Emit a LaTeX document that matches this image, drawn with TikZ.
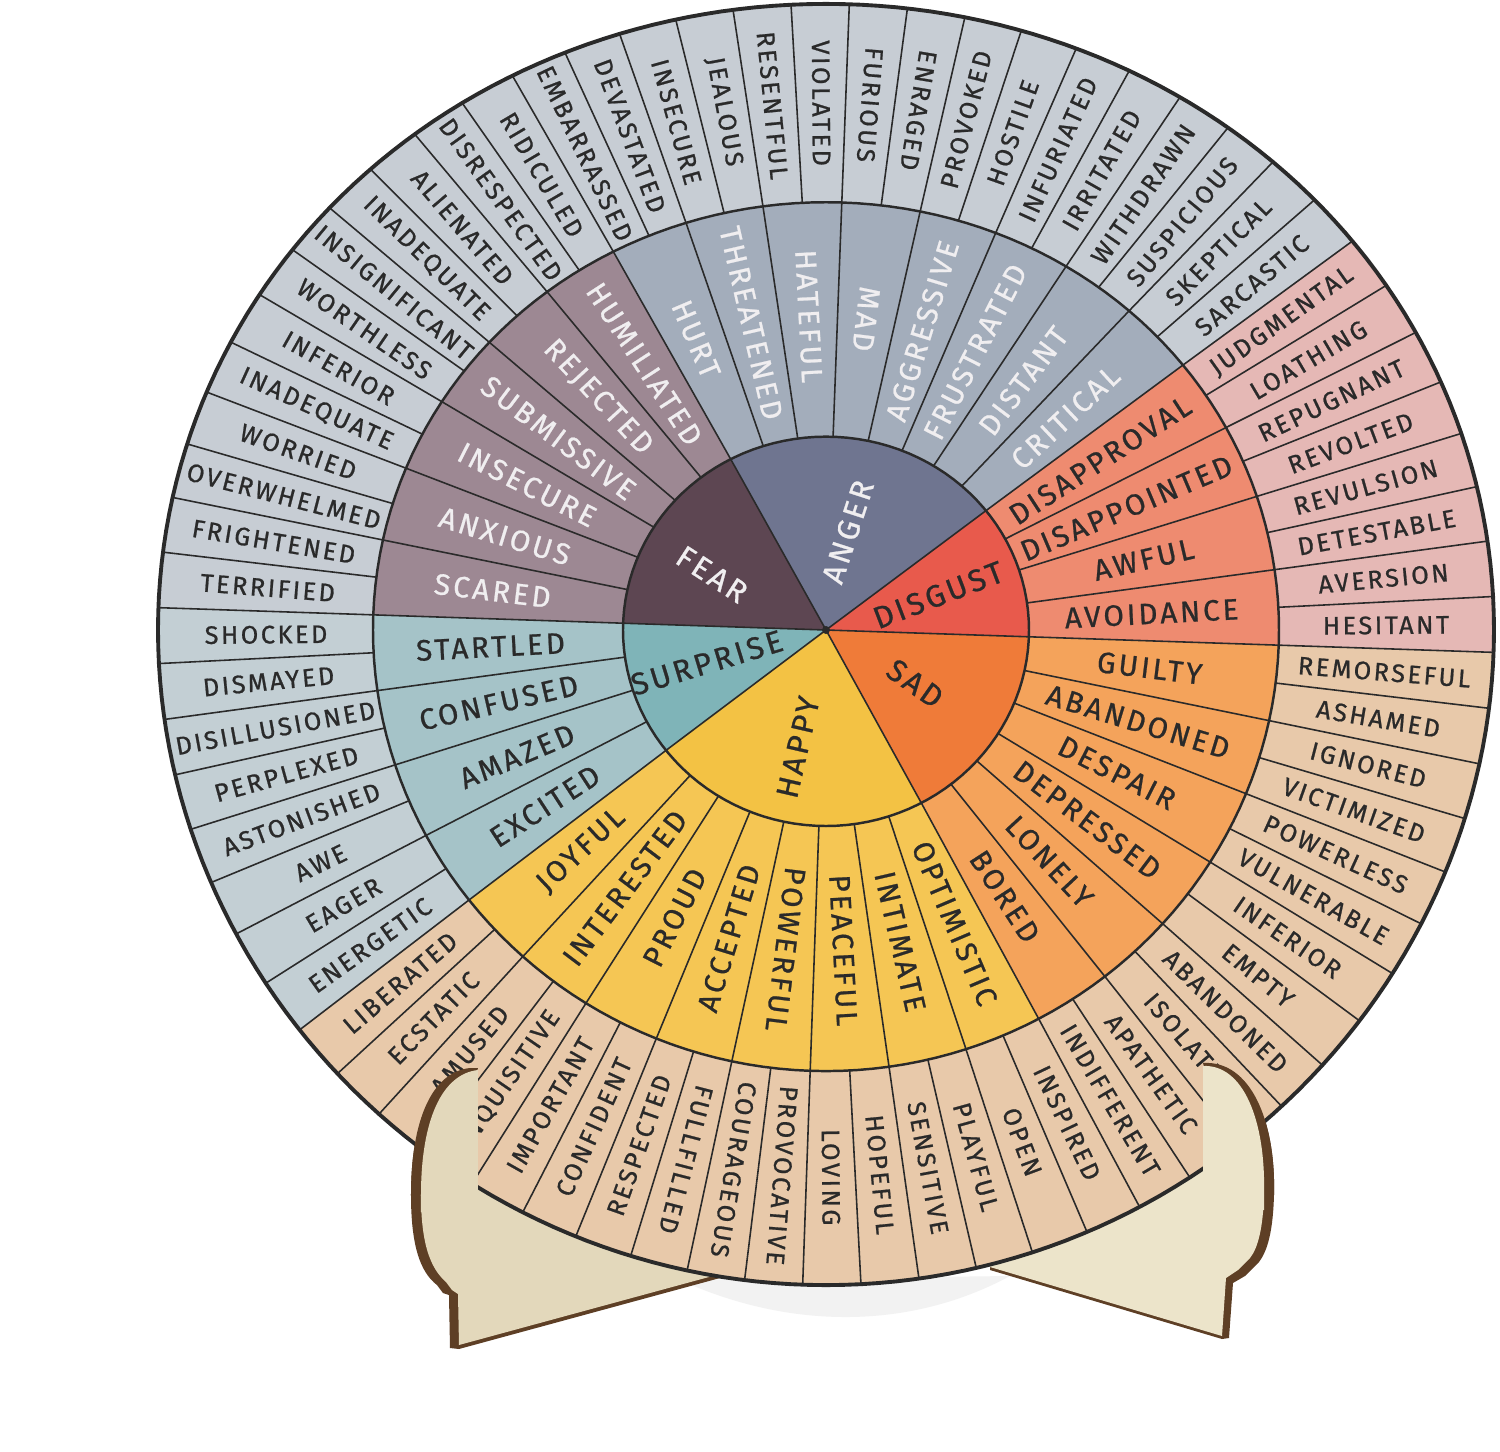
\documentclass[tikz,border=0pt]{standalone}
\usepackage{fontspec}
\setmainfont{Fira Sans}
\newfontfamily\wheelfont{Fira Sans}[LetterSpace=10, FakeBold=0.8]
\usepackage{tikz}
\usepackage{xcolor}
\definecolor{outergray}{HTML}{C7CDD4}
\definecolor{outerblue}{HTML}{C3CFD4}
\definecolor{outerpink}{HTML}{E5B8B5}
\definecolor{outertan}{HTML}{E8C9AA}
\definecolor{midfear}{HTML}{9D8893}
\definecolor{midanger}{HTML}{A3ADBB}
\definecolor{middisgust}{HTML}{EE8B70}
\definecolor{midsad}{HTML}{F4A35B}
\definecolor{midhappy}{HTML}{F5C654}
\definecolor{midsurprise}{HTML}{A5C3C8}
\definecolor{corefear}{HTML}{5D4652}
\definecolor{coreanger}{HTML}{6F7590}
\definecolor{coredisgust}{HTML}{E85A4C}
\definecolor{coresad}{HTML}{EF7B39}
\definecolor{corehappy}{HTML}{F3C244}
\definecolor{coresurprise}{HTML}{7FB4B8}
\definecolor{inkdark}{HTML}{2A2A2A}
\definecolor{inklight}{HTML}{F0EEF0}
\definecolor{woodface}{HTML}{E3D8BB}
\definecolor{woodlight}{HTML}{ECE4CA}
\definecolor{woodedge}{HTML}{5E3F25}
\definecolor{floorshade}{HTML}{F2F2F2}
% wheel seen a little from above: angle, radius -> x, y
\pgfmathdeclarefunction{wx}{2}{\pgfmathparse{#2*cos(#1)}}
\pgfmathdeclarefunction{wy}{2}{\pgfmathparse{0.959*#2*sin(#1)*(1-#2*sin(#1)/295/100)}}
% ring piece between two angles (clockwise) and two radii
\newcommand{\ringsector}[5]{%
  \fill[#5] plot[variable=\t, domain=#1:#2, samples=41] ({wx(\t,#4)},{wy(\t,#4)})
    -- plot[variable=\t, domain=#2:#1, samples=41] ({wx(\t,#3)},{wy(\t,#3)}) -- cycle;}
\newcommand{\coresector}[3]{%
  \fill[#3] (0,0) -- plot[variable=\t, domain=#1:#2, samples=31] ({wx(\t,203)},{wy(\t,203)}) -- cycle;}

\begin{document}
\begin{tikzpicture}[x=0.01cm, y=0.01cm]
\tikzstyle{seg}=[draw=inkdark, line width=0.45pt]
\tikzstyle{ring}=[draw=inkdark, line width=0.7pt]
\tikzstyle{outerword}=[font=\wheelfont\fontsize{7.2}{8}\selectfont, text=inkdark, inner sep=0pt]
\tikzstyle{midword}=[font=\wheelfont\fontsize{8.4}{9}\selectfont, inner sep=0pt]
\tikzstyle{coreword}=[font=\wheelfont\fontsize{8.8}{10}\selectfont, inner sep=0pt]
\useasboundingbox (-826,-821) rectangle (674,630);
\fill[white] (-826,-821) rectangle (674,630);

% stand, parts behind the wheel (picture pixel coordinates)
\begin{scope}[shift={(-826,630)}, yscale=-1]
\fill[floorshade] (680,1280) .. controls (790,1330) and (910,1330) .. (1010,1276) -- cycle;
\fill[woodedge] (470,1068) .. controls (432,1072) and (411,1120) .. (411,1195)
  .. controls (411,1245) and (420,1272) .. (437,1285) -- (443,1293) -- (449,1295) -- (450,1348)
  -- (459,1349) -- (720,1278) -- (720,1150) -- cycle;
\fill[woodface] (478,1070) .. controls (442,1074) and (421,1120) .. (421,1195)
  .. controls (421,1243) and (430,1268) .. (446,1282) -- (452,1290) -- (458,1294) -- (459,1345)
  -- (720,1274) -- (720,1150) -- cycle;
\fill[woodedge] (1203,1063) .. controls (1250,1060) and (1276,1120) .. (1274,1195)
  .. controls (1273,1230) and (1268,1250) .. (1259,1262) -- (1245,1276) -- (1233,1283) -- (1229,1338)
  -- (1222,1339) -- (990,1270) -- (990,1150) -- cycle;
\fill[woodlight] (1203,1066) .. controls (1243,1064) and (1266,1120) .. (1264,1195)
  .. controls (1263,1228) and (1258,1248) .. (1250,1258) -- (1238,1270) -- (1226,1278) -- (1222,1336)
  -- (990,1267) -- (990,1150) -- cycle;
\end{scope}

% outer ring
\ringsector{178}{38}{453}{668}{outergray}
\ringsector{38}{-2}{453}{668}{outerpink}
\ringsector{-2}{-142}{453}{668}{outertan}
\ringsector{-142}{-182}{453}{668}{outerblue}
% middle ring
\ringsector{178}{118}{203}{453}{midfear}
\ringsector{118}{38}{203}{453}{midanger}
\ringsector{38}{-2}{203}{453}{middisgust}
\ringsector{-2}{-62}{203}{453}{midsad}
\ringsector{-62}{-142}{203}{453}{midhappy}
\ringsector{-142}{-182}{203}{453}{midsurprise}
% core
\coresector{178}{118}{corefear}
\coresector{118}{38}{coreanger}
\coresector{38}{-2}{coredisgust}
\coresector{-2}{-62}{coresad}
\coresector{-62}{-142}{corehappy}
\coresector{-142}{-182}{coresurprise}

% dividers
\foreach \k in {0,...,71}
  \draw[seg] ({wx(178-5*\k,453)},{wy(178-5*\k,453)}) -- ({wx(178-5*\k,668)},{wy(178-5*\k,668)});
\foreach \k in {0,...,35}
  \draw[seg] ({wx(178-10*\k,203)},{wy(178-10*\k,203)}) -- ({wx(178-10*\k,453)},{wy(178-10*\k,453)});
\foreach \a in {178,118,38,-2,-62,-142}
  \draw[seg] (0,0) -- ({wx(\a,203)},{wy(\a,203)});
\draw[ring] plot[variable=\t, domain=0:360, samples=121] ({wx(\t,203)},{wy(\t,203)}) -- cycle;
\draw[ring] plot[variable=\t, domain=0:360, samples=181] ({wx(\t,453)},{wy(\t,453)}) -- cycle;
\draw[draw=inkdark, line width=1.1pt] plot[variable=\t, domain=0:360, samples=241] ({wx(\t,668)},{wy(\t,668)}) -- cycle;
\fill[inkdark] (0,0) circle[radius=4];

% outer words
\foreach \w [count=\k from 0] in {TERRIFIED,FRIGHTENED,OVERWHELMED,WORRIED,INADEQUATE,INFERIOR,WORTHLESS,INSIGNIFICANT,INADEQUATE,ALIENATED,DISRESPECTED,RIDICULED,EMBARRASSED,DEVASTATED,INSECURE,JEALOUS,RESENTFUL,VIOLATED,FURIOUS,ENRAGED,PROVOKED,HOSTILE,INFURIATED,IRRITATED,WITHDRAWN,SUSPICIOUS,SKEPTICAL,SARCASTIC,JUDGMENTAL,LOATHING,REPUGNANT,REVOLTED,REVULSION,DETESTABLE,AVERSION,HESITANT,REMORSEFUL,ASHAMED,IGNORED,VICTIMIZED,POWERLESS,VULNERABLE,INFERIOR,EMPTY,ABANDONED,ISOLATED,APATHETIC,INDIFFERENT,INSPIRED,OPEN,PLAYFUL,SENSITIVE,HOPEFUL,LOVING,PROVOCATIVE,COURAGEOUS,FULLFILLED,RESPECTED,CONFIDENT,IMPORTANT,INQUISITIVE,AMUSED,ECSTATIC,LIBERATED,ENERGETIC,EAGER,AWE,ASTONISHED,PERPLEXED,DISILLUSIONED,DISMAYED,SHOCKED}{
  \pgfmathsetmacro\a{175.5-5*\k}
  \pgfmathsetmacro\r{ifthenelse(\a>79 || \a<-105, \a+180, \a)}
  \node[outerword, rotate=\r] (o\k) at ({wx(\a,560)},{wy(\a,560)}) {\w};
}
% middle words
\foreach \w [count=\k from 0] in {SCARED,ANXIOUS,INSECURE,SUBMISSIVE,REJECTED,HUMILIATED,HURT,THREATENED,HATEFUL,MAD,AGGRESSIVE,FRUSTRATED,DISTANT,CRITICAL}{
  \pgfmathsetmacro\a{173-10*\k}
  \pgfmathsetmacro\r{ifthenelse(\a>79 || \a<-105, \a+180, \a)}
  \pgfmathsetmacro\d{331-5*cos(\a)}
  \node[midword, text=inklight, rotate=\r] (m\k) at ({wx(\a,\d)},{wy(\a,\d)}) {\w};
}
\foreach \w [count=\k from 14] in {DISAPPROVAL,DISAPPOINTED,AWFUL,AVOIDANCE,GUILTY,ABANDONED,DESPAIR,DEPRESSED,LONELY,BORED,OPTIMISTIC,INTIMATE,PEACEFUL,POWERFUL,ACCEPTED,PROUD,INTERESTED,JOYFUL,EXCITED,AMAZED,CONFUSED,STARTLED}{
  \pgfmathsetmacro\a{173-10*\k}
  \pgfmathsetmacro\r{ifthenelse(\a>79 || \a<-105, \a+180, \a)}
  \pgfmathsetmacro\d{331-5*cos(\a)}
  \node[midword, text=inkdark, rotate=\r] (m\k) at ({wx(\a,\d)},{wy(\a,\d)}) {\w};
}
% core words
\node[coreword, text=inklight, rotate=-33] (fear) at ({wx(153,128)},{wy(153,128)}) {FEAR};
\node[coreword, text=inklight, rotate=72] (anger) at ({wx(78,105)},{wy(78,105)}) {ANGER};
\node[coreword, text=inkdark, rotate=21] (disgust) at ({wx(18,118)},{wy(18,118)}) {DISGUST};
\node[coreword, text=inkdark, rotate=-35] (sad) at ({wx(-32,105)},{wy(-32,105)}) {SAD};
\node[coreword, text=inkdark, rotate=77] (happy) at ({wx(-103,125)},{wy(-103,125)}) {HAPPY};
\node[coreword, text=inkdark, rotate=17] (surprise) at ({wx(-164,124)},{wy(-164,124)}) {SURPRISE};

% stand tabs, in front of the wheel
\begin{scope}[shift={(-826,630)}, yscale=-1]
\fill[woodedge] (470,1068) .. controls (432,1072) and (411,1120) .. (411,1195) -- (440,1195) -- (478,1068) -- cycle;
\fill[woodface] (478,1070) .. controls (442,1074) and (421,1120) .. (421,1195) -- (421,1212) -- (478,1212) -- cycle;
\fill[woodedge] (1203,1063) .. controls (1250,1060) and (1276,1120) .. (1274,1195) -- (1240,1195) -- (1203,1063) -- cycle;
\fill[woodlight] (1203,1066) .. controls (1243,1064) and (1266,1120) .. (1264,1195) -- (1264,1210) -- (1203,1210) -- cycle;
\end{scope}
\end{tikzpicture}
\end{document}
